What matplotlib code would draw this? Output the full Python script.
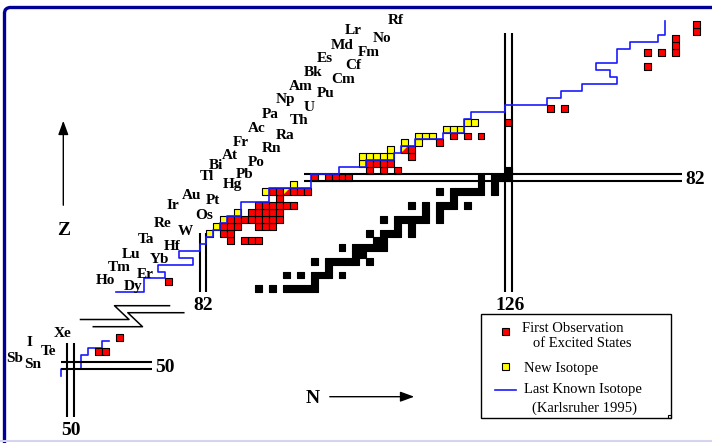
#!/usr/bin/env python3
"""
Chart of nuclides along the proton drip line
============================================

Redraws the Z-N overview with first observations of excited states,
new isotopes and the last known isotope line (Karlsruher 1995).

Output: out.png
"""

import matplotlib
matplotlib.use("Agg")
import matplotlib.pyplot as plt
import matplotlib.transforms as mtransforms
from matplotlib.collections import PatchCollection
from matplotlib.lines import Line2D
from matplotlib.patches import Polygon, Rectangle

# ---------------------------------------------------------------- data
# stable nuclei (black), one row of N per element
stable_Z = list(range(66, 84))
stable_N = [
    [90, 92, 94, 95, 96, 97, 98],         # Dy
    [98],                                 # Ho
    [94, 96, 98, 99, 100, 102],           # Er
    [100],                                # Tm
    [98, 100, 101, 102, 103, 104, 106],   # Yb
    [104, 105],                           # Lu
    [102, 104, 105, 106, 107, 108],       # Hf
    [107, 108],                           # Ta
    [106, 108, 109, 110, 112],            # W
    [110, 112],                           # Re
    [108, 110, 111, 112, 113, 114, 116],  # Os
    [114, 116],                           # Ir
    [112, 114, 116, 117, 118, 120],       # Pt
    [118],                                # Au
    [116, 118, 119, 120, 121, 122, 124],  # Hg
    [122, 124],                           # Tl
    [122, 124, 125, 126],                 # Pb
    [126],                                # Bi
]

# first observation of excited states (red)
excited_Z = [67, 73, 74, 75, 76, 77, 78, 79, 80, 82, 83, 84, 85, 86,
             87, 88, 90, 92, 98, 100, 101, 102, 103, 104]
excited_N = [
    [77],
    [86, 88, 89, 90],
    [85, 86],
    [85, 86, 87, 90, 91, 92],
    [86, 87, 88, 89, 90, 91, 92, 93],
    [89, 90, 91, 92, 93],
    [90, 91, 92, 93, 94, 95],
    [93],
    [92, 93, 95, 96, 97],
    [98, 100, 101, 102, 103],
    [106, 108, 110],
    [106, 107, 108, 109],
    [112],
    [112],
    [116],
    [118, 120, 122],
    [126],
    [132, 134],
    [146],
    [146, 148, 150],
    [150],
    [150],
    [153],
    [153],
]

# new isotopes (yellow)
new_Z = [74, 75, 76, 77, 80, 81, 84, 85, 86, 87, 88, 89, 90]
new_N = [[83], [84], [85], [87], [91], [95], [105],
         [105, 106, 107, 108, 109], [109], [111, 113],
         [113, 114, 115], [117, 118, 119], [120, 121]]

# both: new isotope and excited states (half/half)
both_cells = [(94, 80), (111, 86)]
# known, nothing new
plain_cells = [(99, 82)]

# last known isotope (Karlsruher 1995), cell corners (N, Z)
known_line = [
    (69.5, 65.5), (73.5, 65.5), (73.5, 67.5), (76.5, 67.5), (76.5, 68.5),
    (75.5, 68.5), (75.5, 69.5), (80.5, 69.5), (80.5, 70.5), (78.5, 70.5),
    (78.5, 71.5), (81.5, 71.5), (81.5, 72.5), (82.5, 72.5), (82.5, 73.5),
    (83.5, 73.5), (83.5, 74.5), (84.5, 74.5), (84.5, 75.5), (85.5, 75.5),
    (85.5, 76.5), (87.5, 76.5), (87.5, 78.5), (91.5, 78.5), (91.5, 80.5),
    (97.5, 80.5), (97.5, 82.5), (101.5, 82.5), (101.5, 83.5), (105.5, 83.5),
    (105.5, 84.5), (109.5, 84.5), (109.5, 85.5), (110.5, 85.5), (110.5, 86.5),
    (112.5, 86.5), (112.5, 87.5), (116.5, 87.5), (116.5, 88.5), (119.5, 88.5),
    (119.5, 90.5), (120.5, 90.5), (120.5, 91.5), (125.5, 91.5), (125.5, 92.5),
    (131.5, 92.5), (131.5, 93.5), (133.5, 93.5), (133.5, 94.5), (136.5, 94.5),
    (136.5, 95.5), (141.5, 95.5), (141.5, 96.5), (140.5, 96.5), (140.5, 97.5),
    (138.5, 97.5), (138.5, 98.5), (141.5, 98.5), (141.5, 100.5), (143.5, 100.5),
    (143.5, 101.5), (147.5, 101.5), (147.5, 102.5), (148.5, 102.5),
    (148.5, 104.5),
]

# Sn region (drawn as a shifted inset)
inset_excited = [(54, 52), (55, 52), (57, 54)]
inset_known = [(48.5, 48.5), (48.5, 49.5), (51.5, 49.5), (51.5, 51.5),
               (52.5, 51.5), (52.5, 52.5), (54.5, 52.5), (54.5, 53.5),
               (55.5, 53.5)]
INSET_SHIFT = (13, 5)

elements = ["Dy", "Ho", "Er", "Tm", "Yb", "Lu", "Hf", "Ta", "W", "Re",
            "Os", "Ir", "Pt", "Au", "Hg", "Tl", "Pb", "Bi", "Po", "At",
            "Rn", "Fr", "Ra", "Ac", "Th", "Pa", "U", "Np", "Pu", "Am",
            "Cm", "Bk", "Cf", "Es", "Fm", "Md", "No", "Lr", "Rf"]
label_x = [71.9, 67.9, 73.65, 69.96, 75.8, 71.6, 77.5, 73.8, 79.4, 76.2,
           82.1, 77.7, 83.4, 80.4, 86.3, 82.5, 88.0, 83.9, 89.6, 85.9,
           91.9, 87.4, 93.8, 89.7, 95.8, 91.6, 97.25, 93.8, 99.7, 96.1,
           102.1, 97.8, 103.6, 99.55, 105.9, 102.0, 107.8, 103.6, 109.7]
label_y = [66.41, 67.18, 68.14, 69.11, 70.26, 71.0, 72.07, 73.14, 74.33,
           75.34, 76.53, 78.07, 78.69, 79.51, 80.95, 82.17, 82.53, 83.7,
           84.16, 85.2, 86.13, 87.09, 88.04, 89.11, 90.16, 91.12, 92.13,
           93.18, 94.14, 95.09, 96.16, 97.17, 98.12, 99.08, 99.99, 101.09,
           101.96, 103.25, 104.68]

inset_elements = ["Sn", "Sb", "Te", "I", "Xe"]
inset_label_x = [57.56, 54.95, 59.73, 57.1, 61.8]
inset_label_y = [55.19, 56.0, 57.06, 58.26, 59.6]

# ---------------------------------------------------------------- layout
W, H = 712, 443
CELL = 6.95               # pixels per nucleon
X82, Y82 = 203.0, 177.7   # pixel centre of N=82 column / Z=82 row
FONT = ["Liberation Serif", "DejaVu Serif"]
RED, YELLOW, BLUE = "#ff0000", "#ffff00", "#1a1aff"


def flatten(zs, ns):
    return [(n, z) for z, row in zip(zs, ns) for n in row]


def cells(pairs, face, shift=(0, 0), lw=0.8):
    dn, dz = shift
    rects = [Rectangle((n - 0.5 + dn, z - 0.5 + dz), 1, 1) for n, z in pairs]
    return PatchCollection(rects, facecolor=face, edgecolor="black",
                           linewidth=lw, zorder=3)


fig = plt.figure(figsize=(W / 100, H / 100), dpi=100)
ax = fig.add_axes([0, 0, 1, 1])
ax.set_xlim(82 - X82 / CELL, 82 + (W - X82) / CELL)
ax.set_ylim(82 - (H - Y82) / CELL, 82 + Y82 / CELL)
ax.axis("off")

# pixel transform for the decorations (frame, legend, arrows)
pix = mtransforms.Affine2D().scale(1 / W, -1 / H).translate(0, 1) + fig.transFigure

# cells
ax.add_collection(cells(flatten(stable_Z, stable_N), "black"))
ax.add_collection(cells(flatten(excited_Z, excited_N), RED))
ax.add_collection(cells(flatten(new_Z, new_N), YELLOW))
ax.add_collection(cells(plain_cells, "white"))
ax.add_collection(cells(inset_excited, RED, INSET_SHIFT))
for n, z in both_cells:
    ax.add_patch(Polygon([(n - 0.5, z - 0.5), (n - 0.5, z + 0.5), (n + 0.5, z + 0.5)],
                         facecolor=YELLOW, edgecolor="none", zorder=3))
    ax.add_patch(Polygon([(n - 0.5, z - 0.5), (n + 0.5, z - 0.5), (n + 0.5, z + 0.5)],
                         facecolor=RED, edgecolor="none", zorder=3))
    ax.add_patch(Rectangle((n - 0.5, z - 0.5), 1, 1, fill=False,
                           edgecolor="black", linewidth=0.8, zorder=3))

# magic number lines
mline = dict(color="black", linewidth=1.5, zorder=4, solid_capstyle="butt")
for z in (81.5, 82.5):
    ax.plot([96.6, 150.9], [z, z], **mline)
for n in (125.5, 126.5):
    ax.plot([n, n], [65.55, 102.8], **mline)
for n in (81.5, 82.5):
    ax.plot([n, n], [65.6, 74.1], **mline)
dn, dz = INSET_SHIFT
for z in (49.5, 50.5):
    ax.plot([48.56 + dn, 61.6 + dn], [z + dz, z + dz], **mline)
for n in (49.5, 50.5):
    ax.plot([n + dn, n + dn], [42.6 + dz, 53.2 + dz], **mline)

# last known isotope
kn, kz = zip(*known_line)
ax.plot(kn, kz, color=BLUE, linewidth=1.2, zorder=5)
kn, kz = zip(*inset_known)
ax.plot([n + dn for n in kn], [z + dz for z in kz], color=BLUE, linewidth=1.2, zorder=2)

# axis break
brk = dict(color="black", linewidth=1.1, transform=pix)
ax.add_line(Line2D([80.5, 129, 114.5, 169.5], [319.5, 319.5, 305.7, 305.7], **brk))
ax.add_line(Line2D([93.3, 142.5, 127.8, 183.8], [326.7, 326.7, 312.7, 312.7], **brk))

# element names
for name, x, y in zip(elements, label_x, label_y):
    ax.text(x, y, name, ha="center", va="center", fontsize=11,
            fontweight="bold", family=FONT, zorder=6)
for name, x, y in zip(inset_elements, inset_label_x, inset_label_y):
    ax.text(x, y, name, ha="center", va="center", fontsize=11,
            fontweight="bold", family=FONT, zorder=6)

# magic numbers
magic = dict(fontsize=14, fontweight="bold", family=FONT, ha="center",
             va="baseline", transform=pix)
ax.text(695, 183.5, "82", **magic)
ax.text(203.5, 310, "82", **magic)
ax.text(510, 310, "126", **magic)
ax.text(165, 371.7, "50", **magic)
ax.text(70.5, 435, "50", **magic)

# axis arrows
ax.annotate("", xy=(63.3, 118), xytext=(63.3, 208), xycoords=pix,
            arrowprops=dict(arrowstyle="-|>,head_length=0.6,head_width=0.22",
                            color="black", lw=1.0, mutation_scale=14))
ax.annotate("", xy=(417, 396.7), xytext=(327, 396.7), xycoords=pix,
            arrowprops=dict(arrowstyle="-|>,head_length=0.6,head_width=0.22",
                            color="black", lw=1.0, mutation_scale=14))
ax.text(64, 235, "Z", fontsize=14, fontweight="bold", family=FONT,
        ha="center", va="baseline", transform=pix)
ax.text(313, 403.3, "N", fontsize=14, fontweight="bold", family=FONT,
        ha="center", va="baseline", transform=pix)

# legend
ax.add_patch(Rectangle((481, 314), 189.5, 104.3, transform=pix, fill=False,
                       edgecolor="black", linewidth=1.0, zorder=6))
ax.add_patch(Rectangle((667.5, 415.3), 3, 3, transform=pix, fill=False,
                       edgecolor="black", linewidth=0.8, zorder=6))
ax.add_patch(Rectangle((501.8, 328.5), 7, 7, transform=pix, facecolor=RED,
                       edgecolor="black", linewidth=0.8, zorder=6))
ax.add_patch(Rectangle((501.8, 363.5), 7, 7, transform=pix, facecolor=YELLOW,
                       edgecolor="black", linewidth=0.8, zorder=6))
ax.add_line(Line2D([495, 515.7], [390, 390], color=BLUE, linewidth=1.2,
                   transform=pix))
leg = dict(fontsize=10.5, family=FONT, ha="left", va="baseline", transform=pix)
ax.text(521.7, 331.7, "First Observation", **leg)
ax.text(533.3, 346.7, "of Excited States", **leg)
ax.text(524, 371.7, "New Isotope", **leg)
ax.text(524, 392.7, "Last Known Isotope", **leg)
ax.text(531.7, 411.7, "(Karlsruher 1995)", **leg)

# page frame
fig.add_artist(Line2D([4.5, 4.5, 5.3, 7.0, 9.5, 712], [443, 12.5, 9.8, 8.3, 7.5, 7.5],
                      color="#000096", linewidth=2.4, transform=pix))
fig.add_artist(Line2D([0, 712], [441, 441], color="#d4d4f0", linewidth=1.5,
                      transform=pix))

fig.savefig("out.png", dpi=100)
